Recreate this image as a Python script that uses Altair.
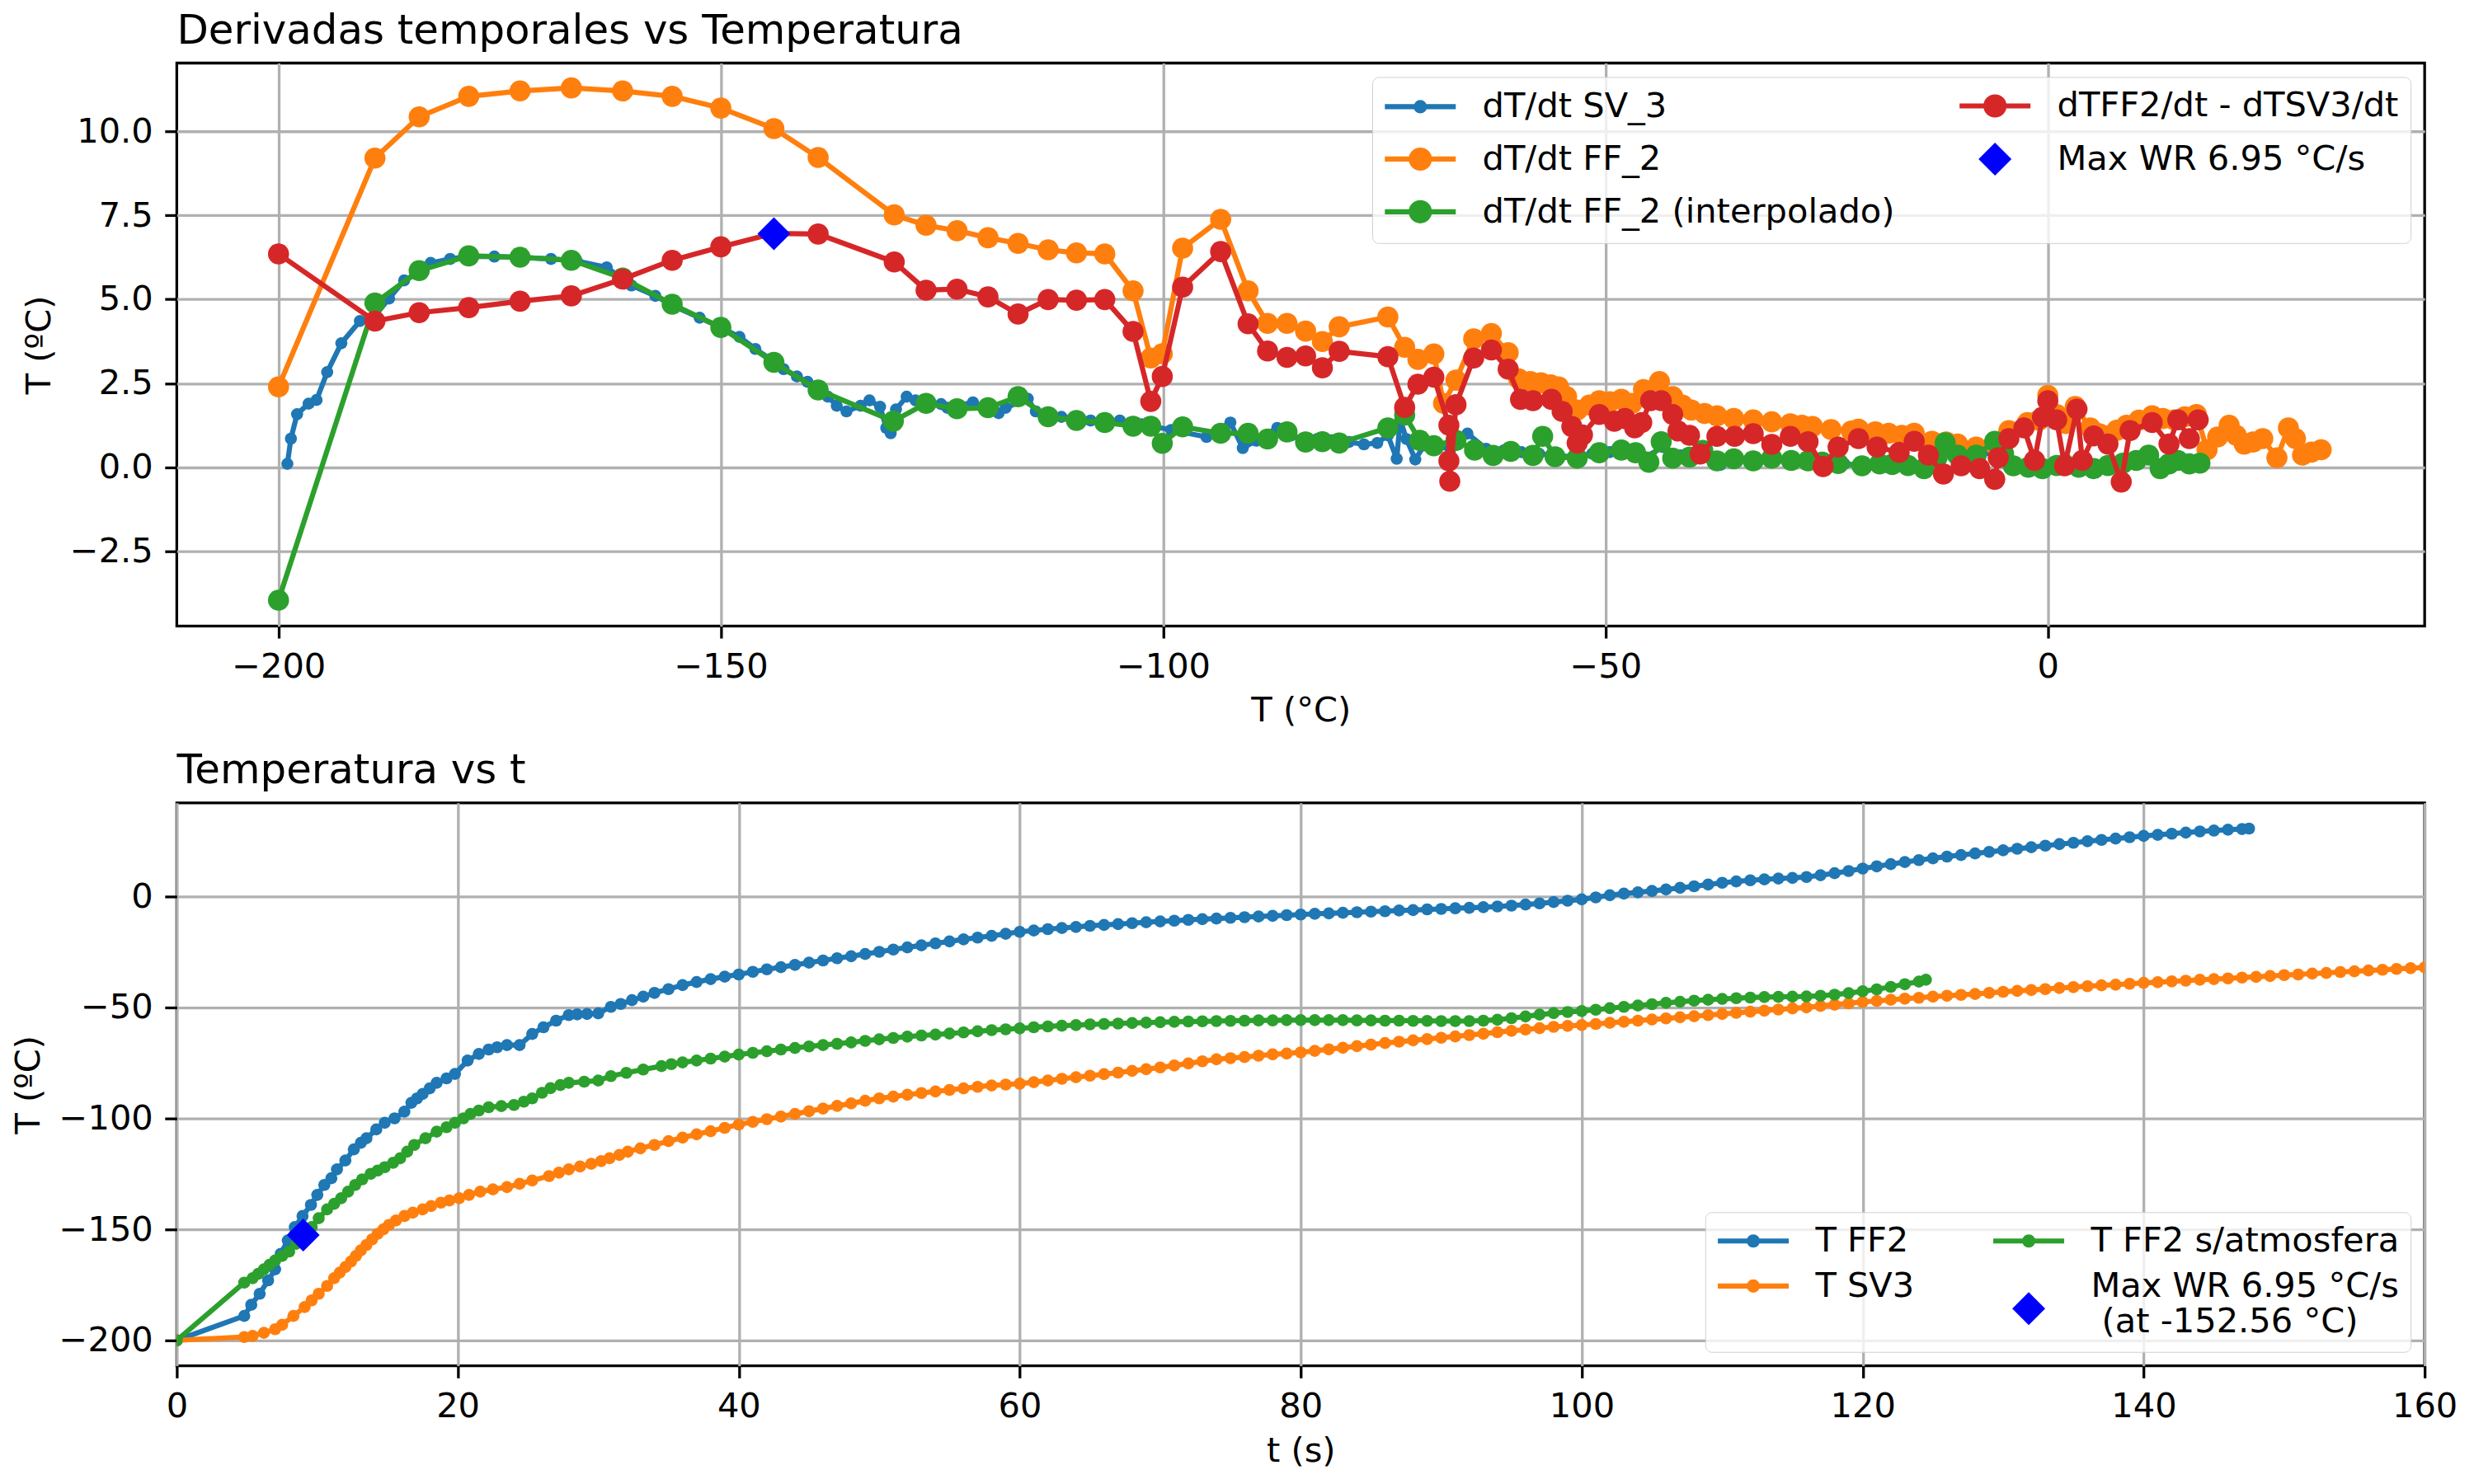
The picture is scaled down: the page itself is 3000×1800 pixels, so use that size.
import pandas as pd
import altair as alt

FONT = "DejaVu Sans"
BLUE, ORANGE, GREEN, RED, PURE = "#1f77b4", "#ff7f0e", "#2ca02c", "#d62728", "#0000ff"
LW = 6.25
W, H = 2734, 685
BIG, SMALL = 660, 216

# ---------------- panel 1: derivadas vs temperatura  (T, dT/dt)
sv3_rate = [(-199.0, 0.10), (-198.6, 0.85), (-197.9, 1.58), (-196.6, 1.89), (-195.7, 2.00), (-194.5, 2.83),
            (-192.9, 3.69), (-190.8, 4.35), (-189.2, 4.48), (-187.5, 5.02), (-185.8, 5.56), (-184.1, 5.79),
            (-182.8, 6.08), (-180.6, 6.20), (-178.5, 6.28), (-175.6, 6.27), (-172.7, 6.25), (-169.2, 6.20),
            (-166.3, 6.14), (-162.9, 5.95), (-160.1, 5.41), (-157.4, 5.10), (-155.3, 4.79), (-152.4, 4.45),
            (-150.0, 4.16), (-147.9, 3.88), (-146.1, 3.52), (-144.0, 3.15), (-142.9, 2.92), (-141.4, 2.70),
            (-140.2, 2.54), (-137.9, 2.10), (-136.9, 1.83), (-135.8, 1.66), (-134.2, 1.83), (-133.2, 1.99),
            (-132.0, 1.80), (-131.3, 1.17), (-130.8, 1.01), (-130.2, 1.72), (-129.0, 2.10), (-128.0, 1.99),
            (-125.1, 1.88), (-124.4, 1.77), (-121.5, 1.93), (-118.6, 1.61), (-117.8, 1.77), (-115.3, 2.04),
            (-114.4, 1.66), (-111.5, 1.50), (-108.2, 1.39), (-104.9, 1.39), (-102.4, 1.28), (-99.1, 1.11),
            (-95.1, 0.90), (-92.4, 1.33), (-91.0, 0.57), (-89.5, 0.79), (-87.1, 1.17), (-85.5, 0.95),
            (-84.0, 0.80), (-82.6, 0.84), (-81.0, 0.80), (-79.0, 0.75), (-77.3, 0.68), (-75.8, 0.72),
            (-74.6, 0.95), (-73.6, 0.25), (-73.2, 1.41), (-72.5, 0.84), (-71.5, 0.23), (-70.5, 0.65),
            (-69.0, 0.60), (-67.5, 0.55), (-65.6, 1.00), (-63.5, 0.55), (-61.5, 0.50), (-59.5, 0.45),
            (-57.5, 0.40), (-55.5, 0.35), (-53.5, 0.30), (-51.5, 0.40), (-49.5, 0.45), (-47.5, 0.50),
            (-45.5, 0.30), (-43.5, 0.60), (-41.5, 0.35), (-39.5, 0.30), (-37.0, 0.07), (-35.0, 0.25),
            (-33.0, 0.20), (-31.0, 0.25), (-29.0, 0.20), (-27.0, 0.15), (-25.0, 0.10), (-23.0, 0.10),
            (-21.0, 0.05), (-19.0, 0.05), (-17.0, 0.05), (-15.0, 0.00), (-13.0, 0.20), (-11.0, 0.50),
            (-9.0, 0.30), (-7.0, 0.50), (-5.0, 0.20), (-3.0, 0.00), (-1.0, 0.00), (1.0, 0.05),
            (3.0, 0.02), (5.0, 0.00), (7.0, 0.05), (9.0, 0.10), (11.0, 0.25), (13.0, 0.05), (15.0, 0.10)]

ff2_rate = [(-200.0, 2.39), (-189.1, 9.20), (-184.1, 10.43), (-178.5, 11.04), (-172.7, 11.20), (-166.9, 11.29),
            (-161.1, 11.20), (-155.5, 11.04), (-150.0, 10.69), (-144.0, 10.08), (-139.0, 9.22), (-130.4, 7.51),
            (-126.8, 7.20), (-123.3, 7.04), (-119.8, 6.83), (-116.4, 6.66), (-113.0, 6.47), (-109.8, 6.38),
            (-106.6, 6.35), (-103.4, 5.25), (-101.4, 3.25), (-100.1, 3.38), (-97.8, 6.52), (-93.5, 7.38),
            (-90.4, 5.25), (-88.2, 4.28), (-86.0, 4.28), (-83.9, 4.05), (-82.0, 3.74), (-80.1, 4.18),
            (-74.6, 4.47), (-72.7, 3.57), (-71.2, 3.21), (-69.4, 3.37), (-68.3, 1.90), (-66.9, 2.59),
            (-64.9, 3.82), (-62.9, 3.98), (-61.0, 3.41), (-59.8, 2.63), (-58.5, 2.55), (-57.3, 2.51),
            (-56.2, 2.45), (-55.3, 2.39), (-54.4, 2.10), (-53.2, 1.70), (-51.8, 1.85), (-50.7, 1.98),
            (-49.5, 1.95), (-48.2, 2.02), (-47.0, 1.90), (-45.7, 2.31), (-43.9, 2.55), (-42.4, 2.10),
            (-41.3, 1.85), (-40.3, 1.70), (-38.8, 1.60), (-37.4, 1.53), (-35.5, 1.45), (-33.3, 1.41),
            (-31.2, 1.35), (-29.1, 1.29), (-27.8, 1.25), (-26.6, 1.21), (-24.5, 1.12), (-22.2, 1.08),
            (-21.4, 1.13), (-19.5, 1.05), (-18.0, 1.01), (-16.5, 0.95), (-15.1, 1.01), (-13.1, 0.77),
            (-11.5, 0.75), (-10.2, 0.69), (-8.1, 0.60), (-6.0, 0.69), (-4.4, 1.09), (-2.3, 1.33),
            (-1.0, 1.40), (0.0, 2.14), (1.0, 1.57), (2.0, 1.30), (3.1, 1.81), (4.8, 1.17), (5.8, 1.00),
            (6.8, 0.93), (7.8, 1.10), (8.9, 1.25), (10.3, 1.40), (11.8, 1.53), (13.0, 1.45), (14.3, 1.41),
            (15.5, 1.50), (16.8, 1.57), (18.0, 0.52), (19.2, 0.90), (20.5, 1.25), (21.3, 0.95), (22.2, 0.69),
            (23.2, 0.75), (24.3, 0.85), (25.9, 0.28), (27.2, 1.17), (28.0, 0.85), (28.8, 0.36), (29.8, 0.45),
            (30.9, 0.52)]

ff2_interp_rate = [(-200.0, -3.96), (-189.1, 4.89), (-184.1, 5.85), (-178.5, 6.29), (-172.7, 6.25),
                   (-166.9, 6.16), (-161.1, 5.63), (-155.5, 4.85), (-150.0, 4.16), (-144.0, 3.12),
                   (-139.0, 2.30), (-130.5, 1.37), (-126.8, 1.90), (-123.3, 1.74), (-119.8, 1.77),
                   (-116.4, 2.10), (-113.0, 1.50), (-109.8, 1.39), (-106.6, 1.33), (-103.4, 1.22),
                   (-101.4, 1.22), (-100.1, 0.71), (-97.8, 1.20), (-93.5, 1.01), (-90.4, 1.01), (-88.2, 0.84),
                   (-86.0, 1.05), (-83.9, 0.75), (-82.0, 0.76), (-80.1, 0.72), (-74.6, 1.17), (-72.7, 1.55),
                   (-71.0, 0.80), (-69.4, 0.64), (-66.9, 0.80), (-64.8, 0.51), (-62.7, 0.35), (-60.7, 0.47),
                   (-58.2, 0.35), (-57.1, 0.92), (-55.7, 0.31), (-53.2, 0.27), (-50.7, 0.43), (-48.2, 0.51),
                   (-46.6, 0.43), (-45.1, 0.15), (-43.7, 0.76), (-42.4, 0.27), (-40.5, 0.30), (-39.0, 0.50),
                   (-37.4, 0.19), (-35.5, 0.25), (-33.3, 0.19), (-31.2, 0.27), (-29.0, 0.20), (-27.1, 0.19),
                   (-25.5, 0.15), (-23.7, 0.11), (-21.0, 0.04), (-19.0, 0.10), (-17.6, 0.08), (-15.8, 0.05),
                   (-14.0, -0.04), (-12.5, 0.30), (-11.6, 0.73), (-10.2, 0.36), (-8.1, 0.36), (-6.0, 0.77),
                   (-5.0, 0.40), (-3.9, 0.04), (-2.2, 0.00), (-0.6, -0.04), (1.0, 0.05), (1.9, 0.08),
                   (3.5, 0.00), (5.2, -0.04), (6.8, 0.05), (8.5, 0.12), (10.0, 0.20), (11.4, 0.36),
                   (12.7, -0.04), (13.7, 0.10), (14.7, 0.20), (16.0, 0.10), (17.2, 0.12)]

diff_rate = [(-200.0, 6.35), (-189.1, 4.35), (-184.1, 4.60), (-178.5, 4.75), (-172.7, 4.94), (-166.9, 5.10),
             (-161.1, 5.60), (-155.5, 6.16), (-150.0, 6.56), (-144.0, 6.96), (-139.0, 6.94), (-130.4, 6.11),
             (-126.8, 5.27), (-123.3, 5.30), (-119.8, 5.07), (-116.4, 4.56), (-113.0, 4.99), (-109.8, 4.97),
             (-106.6, 4.99), (-103.4, 4.04), (-101.4, 1.96), (-100.1, 2.70), (-97.8, 5.36), (-93.5, 6.42),
             (-90.4, 4.27), (-88.2, 3.46), (-86.0, 3.27), (-83.9, 3.31), (-82.0, 2.96), (-80.1, 3.45),
             (-74.6, 3.29), (-72.7, 1.78), (-71.2, 2.47), (-69.4, 2.68), (-67.7, 1.25), (-67.7, 0.19),
             (-67.6, -0.42), (-66.9, 1.86), (-64.9, 3.25), (-62.9, 3.49), (-61.0, 2.92), (-59.6, 2.02),
             (-58.2, 1.98), (-56.1, 2.02), (-54.9, 1.66), (-53.8, 1.21), (-53.2, 0.72), (-52.6, 0.96),
             (-50.7, 1.57), (-49.0, 1.37), (-47.8, 1.45), (-46.7, 1.17), (-45.9, 1.33), (-44.9, 1.98),
             (-43.7, 1.98), (-42.4, 1.57), (-41.8, 1.08), (-40.5, 0.95), (-39.3, 0.39), (-37.4, 0.92),
             (-35.4, 0.92), (-33.3, 1.00), (-31.2, 0.68), (-29.1, 0.92), (-27.1, 0.76), (-25.4, 0.02),
             (-23.7, 0.60), (-21.4, 0.85), (-19.3, 0.60), (-16.8, 0.44), (-15.1, 0.77), (-13.5, 0.36),
             (-11.8, -0.20), (-9.8, 0.04), (-7.7, -0.04), (-6.0, -0.36), (-5.6, 0.28), (-4.4, 0.85),
             (-2.7, 1.17), (-1.5, 0.20), (-0.6, 1.49), (0.0, 1.98), (1.0, 1.41), (1.9, 0.04), (3.3, 1.73),
             (3.9, 0.20), (5.2, 0.93), (6.8, 0.69), (8.3, -0.44), (9.3, 1.09), (11.8, 1.33), (13.7, 0.69),
             (14.7, 1.41), (16.0, 0.85), (17.0, 1.41)]

max_wr_rate = [(-144.0, 6.95)]

# ---------------- panel 2: temperatura vs t  (t, T)
t_ff2 = [(0.0, -200.0), (4.8, -189.0), (5.3, -184.0), (5.9, -179.0), (6.5, -173.0), (7.0, -168.0),
         (7.4, -161.0), (7.9, -155.0), (8.4, -149.0), (8.95, -144.0), (9.55, -139.0), (10.0, -134.5),
         (10.5, -130.0), (11.0, -127.0), (11.4, -123.0), (12.0, -119.0), (12.6, -114.0), (13.1, -111.0),
         (13.5, -109.0), (14.2, -105.0), (14.8, -102.0), (15.5, -100.0), (16.2, -97.0), (16.7, -93.0),
         (17.1, -91.0), (17.5, -89.0), (18.0, -86.5), (18.5, -84.0), (19.2, -82.0), (19.8, -80.0),
         (20.7, -74.0), (21.5, -71.0), (22.2, -69.0), (22.8, -68.0), (23.5, -67.0), (24.4, -67.0),
         (25.3, -62.0), (26.1, -59.0), (27.0, -56.0), (27.9, -53.5), (28.5, -53.2), (29.2, -53.0),
         (30.0, -52.7), (30.9, -49.8), (31.6, -48.5), (32.4, -46.8), (33.2, -45.2), (34.0, -43.5),
         (35.0, -41.8), (36, -40.0), (37, -38.6), (38, -37.3), (39, -36.2), (40, -35.2), (41, -34.0),
         (42, -32.9), (43, -31.9), (44, -30.9), (45, -29.9), (46, -28.9), (47, -27.9), (48, -27.0),
         (49, -26.0), (50, -25.0), (51, -24.0), (52, -23.0), (53, -22.1), (54, -21.2), (55, -20.3),
         (56, -19.4), (57, -18.6), (58, -17.8), (59, -16.9), (60, -16.0), (61, -15.4), (62, -14.8),
         (63, -14.3), (64, -13.8), (65, -13.3), (66, -12.9), (67, -12.5), (68, -12.1), (69, -11.7),
         (70, -11.3), (71, -11.0), (72, -10.6), (73, -10.3), (74, -10.0), (75, -9.7), (76, -9.4),
         (77, -9.1), (78, -8.8), (79, -8.5), (80, -8.2), (81, -7.9), (82, -7.7), (83, -7.4), (84, -7.2),
         (85, -6.9), (86, -6.7), (87, -6.4), (88, -6.2), (89, -5.9), (90, -5.7), (91, -5.4), (92, -5.2),
         (93, -4.9), (94, -4.6), (95, -4.2), (96, -3.7), (97, -3.2), (98, -2.6), (99, -2.0), (100, -1.4),
         (101, -0.5), (102, 0.5), (103, 1.2), (104, 1.8), (105, 2.4), (106, 3.1), (107, 3.8), (108, 4.5),
         (109, 5.3), (110, 6.1), (111, 6.7), (112, 7.2), (113, 7.6), (114, 8.0), (115, 8.3), (116, 8.7),
         (117, 9.5), (118, 10.4), (119, 11.4), (120, 12.5), (121, 13.5), (122, 14.5), (123, 15.4),
         (124, 16.3), (125, 17.1), (126, 17.9), (127, 18.6), (128, 19.3), (129, 20.0), (130, 20.7),
         (131, 21.4), (132, 22.1), (133, 22.8), (134, 23.5), (135, 24.1), (136, 24.8), (137, 25.4),
         (138, 26.0), (139, 26.6), (140, 27.2), (141, 27.7), (142, 28.2), (143, 28.7), (144, 29.2),
         (145, 29.6), (146, 30.0), (147, 30.3), (147.5, 30.5)]

t_sv3 = [(0.0, -200.0), (4.8, -198.5), (5.4, -198.0), (6.2, -196.6), (7.0, -195.0), (7.5, -193.0),
         (8.3, -189.0), (9.1, -185.0), (9.6, -182.0), (10.1, -179.0), (10.7, -175.5), (11.2, -172.0),
         (11.6, -169.5), (12.0, -167.0), (12.4, -164.5), (12.75, -162.0), (13.1, -159.5), (13.5, -157.0),
         (13.9, -154.5), (14.3, -152.0), (14.7, -150.0), (15.1, -148.0), (15.6, -146.0), (16.2, -144.0),
         (16.8, -142.5), (17.5, -141.0), (18.1, -139.5), (18.8, -138.0), (19.4, -137.0), (20.1, -136.0),
         (20.8, -134.5), (21.6, -133.0), (22.5, -132.0), (23.5, -131.0), (24.4, -129.5), (25.3, -128.0),
         (26.5, -126.0), (27.2, -124.5), (27.9, -123.0), (28.7, -121.7), (29.5, -120.5), (30.2, -119.3),
         (30.8, -118.0), (31.5, -116.5), (32.1, -115.0), (33, -113.5), (34, -112.0), (35, -110.3),
         (36, -108.7), (37, -107.2), (38, -105.8), (39, -104.3), (40, -102.8), (41, -101.6), (42, -100.4),
         (43, -99.2), (44, -98.0), (45, -96.8), (46, -95.6), (47, -94.4), (48, -93.3), (49, -92.1),
         (50, -91.0), (51, -90.2), (52, -89.4), (53, -88.6), (54, -87.9), (55, -87.2), (56, -86.5),
         (57, -85.8), (58, -85.2), (59, -84.8), (60, -84.4), (61, -83.7), (62, -83.0), (63, -82.2),
         (64, -81.5), (65, -80.8), (66, -80.1), (67, -79.4), (68, -78.6), (69, -77.9), (70, -77.1),
         (71, -76.2), (72, -75.3), (73, -74.3), (74, -73.4), (75, -72.9), (76, -72.4), (77, -71.8),
         (78, -71.2), (79, -70.8), (80, -70.3), (81, -69.6), (82, -68.9), (83, -68.2), (84, -67.5),
         (85, -66.8), (86, -66.1), (87, -65.5), (88, -64.9), (89, -64.3), (90, -63.7), (91, -63.1),
         (92, -62.5), (93, -61.9), (94, -61.2), (95, -60.6), (96, -60.0), (97, -59.4), (98, -58.8),
         (99, -58.4), (100, -58.0), (101, -57.5), (102, -57.0), (103, -56.5), (104, -56.0), (105, -55.5),
         (106, -55.0), (107, -54.5), (108, -54.0), (109, -53.5), (110, -53.0), (111, -52.5), (112, -52.0),
         (113, -51.5), (114, -51.0), (115, -50.5), (116, -50.0), (117, -49.4), (118, -48.8), (119, -48.2),
         (120, -47.6), (121, -47.1), (122, -46.6), (123, -46.1), (124, -45.7), (125, -45.2), (126, -44.8),
         (127, -44.4), (128, -44.0), (129, -43.5), (130, -43.0), (131, -42.6), (132, -42.2), (133, -41.8),
         (134, -41.3), (135, -40.9), (136, -40.5), (137, -40.1), (138, -39.8), (139, -39.4), (140, -39.0),
         (141, -38.7), (142, -38.3), (143, -38.0), (144, -37.6), (145, -37.3), (146, -37.0), (147, -36.6),
         (148, -36.3), (149, -35.9), (150, -35.5), (151, -35.2), (152, -34.8), (153, -34.5), (154, -34.1),
         (155, -33.8), (156, -33.4), (157, -33.1), (158, -32.7), (159, -32.4), (160, -32.0)]

t_ff2_atm = [(0.0, -200.0), (4.8, -174.0), (5.4, -172.0), (5.8, -170.0), (6.2, -168.0), (6.6, -166.0),
             (7.0, -164.0), (7.5, -162.0), (8.0, -160.0), (8.5, -156.5), (9.0, -153.0), (9.6, -149.0),
             (10.1, -145.0), (10.7, -141.0), (11.2, -138.5), (11.7, -136.0), (12.2, -133.0), (12.7, -130.0),
             (13.2, -127.5), (13.8, -125.0), (14.3, -123.5), (14.8, -122.0), (15.4, -120.0), (15.9, -118.0),
             (16.4, -115.0), (16.9, -112.0), (17.7, -109.0), (18.5, -106.0), (19.2, -104.0), (19.8, -102.0),
             (20.4, -100.0), (20.9, -98.0), (21.5, -96.5), (22.2, -95.0), (23.1, -94.5), (24.0, -94.0),
             (24.7, -92.5), (25.3, -91.0), (26.0, -88.5), (26.6, -86.4), (27.3, -85.0), (27.9, -84.0),
             (29.0, -83.5), (30.0, -83.0), (30.9, -81.0), (32.0, -79.5), (33.2, -78.0), (34.5, -76.5),
             (35.2, -75.6), (36, -74.8), (37, -74.0), (38, -73.1), (39, -72.2), (40, -71.3), (41, -70.5),
             (42, -69.8), (43, -69.0), (44, -68.3), (45, -67.6), (46, -67.0), (47, -66.4), (48, -65.8),
             (49, -65.1), (50, -64.4), (51, -63.8), (52, -63.2), (53, -62.7), (54, -62.3), (55, -61.8),
             (56, -61.3), (57, -60.8), (58, -60.3), (59, -59.9), (60, -59.5), (61, -59.0), (62, -58.6),
             (63, -58.3), (64, -58.0), (65, -57.7), (66, -57.5), (67, -57.3), (68, -57.1), (69, -56.9),
             (70, -56.7), (71, -56.5), (72, -56.4), (73, -56.3), (74, -56.2), (75, -56.1), (76, -56.0),
             (77, -55.9), (78, -55.9), (79, -55.8), (80, -55.8), (81, -55.8), (82, -55.8), (83, -55.8),
             (84, -55.9), (85, -55.9), (86, -56.0), (87, -56.0), (88, -56.1), (89, -56.1), (90, -56.2),
             (91, -56.2), (92, -56.2), (93, -56.0), (94, -55.6), (95, -54.9), (96, -54.1), (97, -53.3),
             (98, -52.6), (99, -52.1), (100, -51.7), (101, -51.1), (102, -50.4), (103, -49.8), (104, -49.2),
             (105, -48.6), (106, -48.0), (107, -47.5), (108, -47.0), (109, -46.6), (110, -46.2), (111, -45.9),
             (112, -45.6), (113, -45.4), (114, -45.3), (115, -45.2), (116, -45.1), (117, -44.8), (118, -44.3),
             (119, -43.6), (120, -42.8), (121, -41.9), (122, -40.8), (123, -39.6), (124, -38.4), (124.5, -37.6)]

max_wr_time = [(9.0, -152.56)]

# legend handles (custom symbol paths, unit = sqrt(symbolSize)/2 px)
LINE = "M-3.45,0L3.45,0"
DOT_BIG = "M-0.88,0A0.88,0.88,0,1,0,0.88,0A0.88,0.88,0,1,0,-0.88,0Z"
DOT_SMALL = "M-0.4,0A0.4,0.4,0,1,0,0.4,0A0.4,0.4,0,1,0,-0.4,0Z"
DIAMOND = "M0,-1.25L1.25,0L0,1.25L-1.25,0Z"
DIAMOND_LOW = "M0,0.95L1.25,2.2L0,3.45L-1.25,2.2Z"   # centred on a two-line label


def as_df(pairs):
    df = pd.DataFrame(pairs, columns=["x", "y"])
    df["i"] = range(len(df))
    return df


def series(pairs, color, size, xe, ye):
    base = alt.Chart(as_df(pairs)).encode(x=xe, y=ye, order="i:Q")
    return [
        base.mark_line(color=color, strokeWidth=LW, strokeJoin="round", clip=True),
        base.mark_circle(color=color, size=size, opacity=1, clip=True),
    ]


def diamond(pairs, xe, ye):
    return alt.Chart(as_df(pairs)).mark_point(
        shape="diamond", filled=True, color=PURE, size=1600, opacity=1
    ).encode(x=xe, y=ye)


def legend_layer(field, names, firsts, colors, shapes, xe, ye, leg):
    df = pd.DataFrame({field: names, "x": [p[0] for p in firsts], "y": [p[1] for p in firsts]})
    f = field + ":N"
    return alt.Chart(df).mark_point(opacity=0).encode(
        x=xe, y=ye,
        fill=alt.Fill(f, title=None, scale=alt.Scale(domain=names, range=colors), legend=leg),
        stroke=alt.Stroke(f, title=None, scale=alt.Scale(domain=names, range=colors), legend=leg),
        shape=alt.Shape(f, title=None, scale=alt.Scale(domain=names, range=shapes), legend=leg),
    )


def make_legend(orient, col_pad, **extra):
    return alt.Legend(
        orient=orient, offset=17, columns=2, columnPadding=col_pad, rowPadding=12, padding=14,
        fillColor="rgba(255,255,255,0.8)", strokeColor="#d0d0d0", cornerRadius=8,
        symbolSize=625, symbolStrokeWidth=LW, symbolOffset=23.6, symbolOpacity=1,
        labelOffset=54.7, labelFont=FONT, labelFontSize=41.7, labelColor="black", labelLimit=3000,
        **extra,
    )


def title(text):
    return alt.TitleParams(text, anchor="start", frame="group", font=FONT, fontSize=50,
                           fontWeight="normal", color="black", offset=-26, baseline="alphabetic")


# ---------------- top chart
x1 = alt.X("x:Q", scale=alt.Scale(domain=[-211.5, 42.6], nice=False, zero=False),
           axis=alt.Axis(values=[-200, -150, -100, -50, 0], format="d", title="T (°C)"))
y1 = alt.Y("y:Q", scale=alt.Scale(domain=[-4.73, 12.03], nice=False, zero=False),
           axis=alt.Axis(values=[-2.5, 0, 2.5, 5, 7.5, 10], format=".1f", title="T (ºC)"))

# legend is filled column by column, as in the original
names1 = ["dT/dt SV_3", "dT/dt FF_2", "dT/dt FF_2 (interpolado)", "dTFF2/dt - dTSV3/dt", "Max WR 6.95 °C/s"]
top = alt.layer(
    *series(sv3_rate, BLUE, SMALL, x1, y1),
    *series(ff2_rate, ORANGE, BIG, x1, y1),
    *series(ff2_interp_rate, GREEN, BIG, x1, y1),
    *series(diff_rate, RED, BIG, x1, y1),
    diamond(max_wr_rate, x1, y1),
    legend_layer("serie_top", names1,
                 [sv3_rate[0], ff2_rate[0], ff2_interp_rate[0], diff_rate[0], max_wr_rate[0]],
                 [BLUE, ORANGE, GREEN, RED, PURE],
                 [LINE + DOT_SMALL, LINE + DOT_BIG, LINE + DOT_BIG, LINE + DOT_BIG, DIAMOND],
                 x1, y1, make_legend("top-right", 65)),
).properties(width=W, height=H, title=title("Derivadas temporales vs Temperatura"))

# ---------------- bottom chart
x2 = alt.X("x:Q", scale=alt.Scale(domain=[0, 160], nice=False, zero=False),
           axis=alt.Axis(values=list(range(0, 161, 20)), format="d", title="t (s)"))
y2 = alt.Y("y:Q", scale=alt.Scale(domain=[-211.5, 42.1], nice=False, zero=False),
           axis=alt.Axis(values=[-200, -150, -100, -50, 0], format="d", title="T (ºC)"))

names2 = ["T FF2", "T SV3", "T FF2 s/atmosfera", "Max WR 6.95 °C/s|\u200b (at -152.56 °C)"]
bottom = alt.layer(
    *series(t_ff2, BLUE, SMALL, x2, y2),
    *series(t_sv3, ORANGE, SMALL, x2, y2),
    *series(t_ff2_atm, GREEN, SMALL, x2, y2),
    diamond(max_wr_time, x2, y2),
    legend_layer("serie_bottom", names2,
                 [t_ff2[0], t_sv3[0], t_ff2_atm[0], max_wr_time[0]],
                 [BLUE, ORANGE, GREEN, PURE],
                 [LINE + DOT_SMALL, LINE + DOT_SMALL, LINE + DOT_SMALL, DIAMOND_LOW],
                 x2, y2, make_legend("bottom-right", 82, labelExpr="split(datum.label, '|')")),
).properties(width=W, height=H, title=title("Temperatura vs t"))

chart = alt.vconcat(
    top, bottom, spacing=215, bounds="flush",
    padding={"left": 4, "top": 0, "right": 10, "bottom": 10},
).resolve_scale(
    fill="independent", stroke="independent", shape="independent"
).resolve_legend(
    fill="independent", stroke="independent", shape="independent"
).configure(font=FONT).configure_view(
    stroke="black", strokeWidth=3.3
).configure_axis(
    labelFont=FONT, labelFontSize=41.7, labelColor="black", labelPadding=14.6, labelFlush=False,
    titleFont=FONT, titleFontSize=41.7, titleFontWeight="normal", titleColor="black",
    tickSize=14.6, tickWidth=3.3, tickColor="black",
    gridColor="#b0b0b0", gridWidth=3.3, domain=False,
).configure_axisX(titlePadding=12).configure_axisY(titlePadding=15)

chart.save("out.html", embed_options={"renderer": "svg", "actions": False})
